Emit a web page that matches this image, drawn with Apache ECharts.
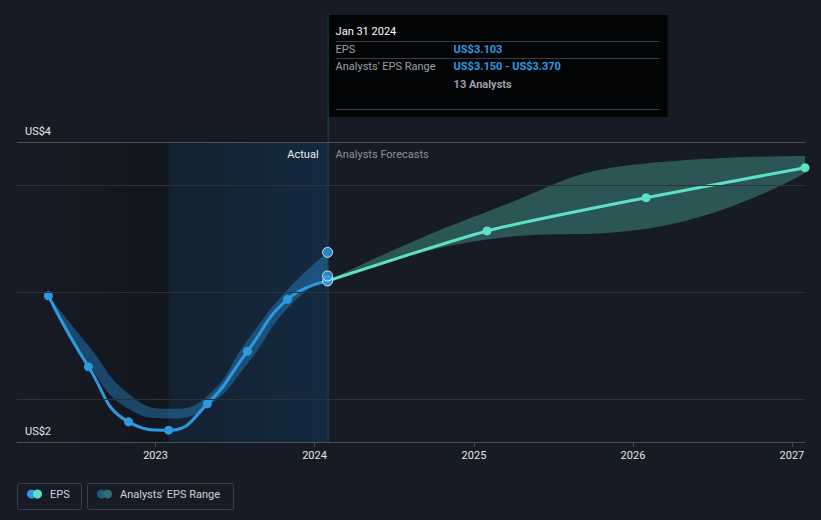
<!DOCTYPE html>
<html>
<head>
<meta charset="utf-8">
<script src="https://cdn.jsdelivr.net/npm/echarts@6/dist/echarts.min.js"></script>
<style>
html,body{margin:0;padding:0;background:#161b25;}
#c{width:821px;height:520px;}
</style>
</head>
<body>
<div id="c"></div>
<script>
// ---- data ----
const actualDates = ['2022-04-30','2022-07-31','2022-10-31','2023-01-31','2023-04-30','2023-07-31','2023-10-31','2024-01-31'];
const epsActual   = [2.965, 2.302, 1.788, 1.710, 1.956, 2.446, 2.932, 3.103];
const pastLow     = [2.965, 2.33, 1.91, 1.82, 1.93, 2.33, 2.85, 3.15];
const pastHigh    = [2.965, 2.50, 2.05, 1.91, 2.03, 2.55, 3.02, 3.37];

const forecastDates = ['2024-01-31','2025-01-31','2026-01-31','2027-01-31'];
const epsForecast   = [3.103, 3.57, 3.88, 4.16];
const fcLow         = [3.103, 3.49, 3.59, 4.11];
const fcHigh        = [3.103, 3.75, 4.20, 4.27];

const lastPoints = [3.103, 3.150, 3.370];
const gridValues = [2, 3, 4];
const yTickLabels = [{value: 1.6, text: 'US$2'}, {value: 4.4, text: 'US$4'}];
const xTickLabels = ['2023','2024','2025','2026','2027'];
const xMin = '2022-02-17', xMax = '2027-01-31';
const yMin = 1.6, yMax = 4.4;
const pastStart = '2023-01-31', todayDate = '2024-01-31';

const tip = {
  title: 'Jan 31 2024',
  rows: [
    {label: 'EPS', value: 'US$3.103'},
    {label: "Analysts' EPS Range", value: 'US$3.150 - US$3.370'}
  ],
  note: '13 Analysts'
};

// ---- styles ----
const BLUE = '#2d9ae0', TEAL = '#5de0c8';
const FONT = 'Roboto, "Noto Sans", sans-serif';
const pair = (xs, ys) => xs.map((d, i) => [d, ys[i]]);

const chart = echarts.init(document.getElementById('c'), null, {renderer: 'svg'});

const option = {
  backgroundColor: '#161b25',
  animation: false,
  grid: {left: 17, right: 16, top: 142, bottom: 78},
  xAxis: {
    type: 'time', min: xMin, max: xMax,
    minInterval: 365 * 864e5, maxInterval: 366 * 864e5,
    axisLine: {show: true, lineStyle: {color: '#4b5058', width: 1}},
    axisTick: {show: true, length: 5, lineStyle: {color: '#4b5058'}},
    axisLabel: {
      color: '#e6e6e6', fontSize: 11, fontFamily: FONT, margin: 8,
      showMinLabel: false, showMaxLabel: false,
      formatter: v => {
        const y = String(new Date(v).getFullYear());
        return xTickLabels.indexOf(y) >= 0 ? y : '';
      }
    },
    splitLine: {show: false}
  },
  yAxis: {
    type: 'value', min: yMin, max: yMax,
    axisLine: {show: false}, axisTick: {show: false},
    axisLabel: {show: false}, splitLine: {show: false}
  },
  series: [
    {
      name: 'bg', type: 'line', data: [], silent: true,
      markArea: {
        silent: true,
        data: [
          [{xAxis: xMin, itemStyle: {color: new echarts.graphic.LinearGradient(0,0,1,0,[{offset:0,color:'#161b25'},{offset:1,color:'#12161e'}])}}, {xAxis: pastStart}],
          [{xAxis: pastStart, itemStyle: {color: new echarts.graphic.LinearGradient(0,0,1,0,[{offset:0,color:'#142130'},{offset:1,color:'#132a40'}])}}, {xAxis: todayDate}]
        ]
      },
      markLine: {
        silent: true, symbol: 'none',
        label: {show: true, position: 'insideStartTop', color: '#e8e8e8', fontSize: 11, fontFamily: FONT, distance: [8, 5]},
        data: [
          ...gridValues.map(v => ({yAxis: v, label: {show: false}, lineStyle: {color: '#2c323c', width: 1, type: 'solid'}})),
          ...yTickLabels.map(t => ({yAxis: t.value, label: {show: true, formatter: t.text}, lineStyle: {color: '#4b5058', width: 1, type: 'solid'}}))
        ]
      }
    },
    // past analysts range band
    {
      name: 'pastLow', type: 'line', stack: 'past', data: pair(actualDates, pastLow),
      smooth: 0.5, showSymbol: false, lineStyle: {opacity: 0}, silent: true
    },
    {
      name: "Analysts' EPS Range", type: 'line', stack: 'past',
      data: pair(actualDates, pastHigh.map((h, i) => +(h - pastLow[i]).toFixed(3))),
      smooth: 0.5, showSymbol: false, lineStyle: {opacity: 0},
      areaStyle: {color: 'rgba(45,150,225,0.38)', opacity: 1}, silent: true
    },
    // forecast range band
    {
      name: 'fcLow', type: 'line', stack: 'fc', data: pair(forecastDates, fcLow),
      smooth: 0.5, showSymbol: false, lineStyle: {opacity: 0}, silent: true
    },
    {
      name: 'fcRange', type: 'line', stack: 'fc',
      data: pair(forecastDates, fcHigh.map((h, i) => +(h - fcLow[i]).toFixed(3))),
      smooth: 0.5, showSymbol: false, lineStyle: {opacity: 0},
      areaStyle: {color: 'rgba(93,224,200,0.30)', opacity: 1}, silent: true
    },
    // forecast line
    {
      name: 'EPS forecast', type: 'line', data: pair(forecastDates, epsForecast),
      smooth: 0.2, symbol: 'circle', symbolSize: 9,
      lineStyle: {color: TEAL, width: 3}, itemStyle: {color: TEAL}, z: 3
    },
    // actual line
    {
      name: 'EPS', type: 'line', data: pair(actualDates, epsActual),
      smooth: 0.5, symbol: 'circle', symbolSize: 9,
      lineStyle: {color: BLUE, width: 3}, itemStyle: {color: BLUE}, z: 4
    },
    // highlighted points at latest date
    {
      name: 'latest', type: 'scatter', data: lastPoints.map(v => [todayDate, v]),
      symbolSize: 10, itemStyle: {color: BLUE, borderColor: '#ffffff', borderWidth: 1}, z: 5
    }
  ]
};
chart.setOption(option);

// overlay texts / tooltip / legend positioned from the library's scales
const xToday = chart.convertToPixel({xAxisIndex: 0}, +new Date(todayDate));
const yTop = chart.convertToPixel({yAxisIndex: 0}, yMax);
const yBottom = chart.convertToPixel({yAxisIndex: 0}, yMin);
const tipX = xToday, tipY = 15, tipW = 340, tipH = 102;
const txt = (x, y, text, color, extra) => ({
  type: 'text', x, y, z: 100,
  style: Object.assign({text, fill: color, font: '11px ' + FONT, verticalAlign: 'middle', align: 'left'}, extra || {})
});
const hline = (x1, x2, y, color) => ({type: 'line', shape: {x1, y1: y + 0.5, x2, y2: y + 0.5}, style: {stroke: color, lineWidth: 1}});

chart.setOption({
  graphic: [
    {type: 'line', z: 1, shape: {x1: xToday + 0.5, y1: tipY, x2: xToday + 0.5, y2: yBottom}, style: {stroke: '#1f4866', lineWidth: 1}},
    txt(xToday - 9, yTop + 12, 'Actual', '#f0f0f0', {align: 'right'}),
    txt(xToday + 8, yTop + 12, 'Analysts Forecasts', '#8c9199'),
    {
      type: 'group', x: tipX, y: tipY, z: 100,
      children: [
        {type: 'rect', shape: {x: 0, y: 0, width: tipW, height: tipH}, style: {fill: '#030405'}},
        txt(8, 16, tip.title, '#ffffff'),
        hline(8, tipW - 8, 26, '#3a3e44'),
        txt(8, 34, tip.rows[0].label, '#9ba0a6'),
        txt(126, 34, tip.rows[0].value, BLUE, {font: 'bold 11px ' + FONT}),
        hline(8, tipW - 8, 43, '#3a3e44'),
        txt(8, 51.5, tip.rows[1].label, '#9ba0a6'),
        txt(126, 51.5, tip.rows[1].value, BLUE, {font: 'bold 11px ' + FONT}),
        txt(126, 69, tip.note, '#9ba0a6', {font: 'bold 11px ' + FONT}),
        hline(8, tipW - 8, 94, '#3a3e44')
      ]
    },
    // legend
    {type: 'rect', shape: {x: 17.5, y: 483.5, width: 64, height: 26, r: 2}, style: {fill: 'none', stroke: '#3a3f48', lineWidth: 1}},
    {type: 'circle', shape: {cx: 31.5, cy: 494, r: 4.5}, style: {fill: BLUE}},
    {type: 'circle', shape: {cx: 37.5, cy: 494, r: 4.5}, style: {fill: TEAL}},
    txt(50, 494.5, 'EPS', '#d0d3d8'),
    {type: 'rect', shape: {x: 87.5, y: 483.5, width: 146, height: 26, r: 2}, style: {fill: 'none', stroke: '#3a3f48', lineWidth: 1}},
    {type: 'circle', shape: {cx: 101.5, cy: 494, r: 4.5}, style: {fill: '#1f5a85'}},
    {type: 'circle', shape: {cx: 107.5, cy: 494, r: 4.5}, style: {fill: '#2e6e6a'}},
    txt(120, 494.5, "Analysts' EPS Range", '#d0d3d8')
  ]
});
</script>
</body>
</html>
